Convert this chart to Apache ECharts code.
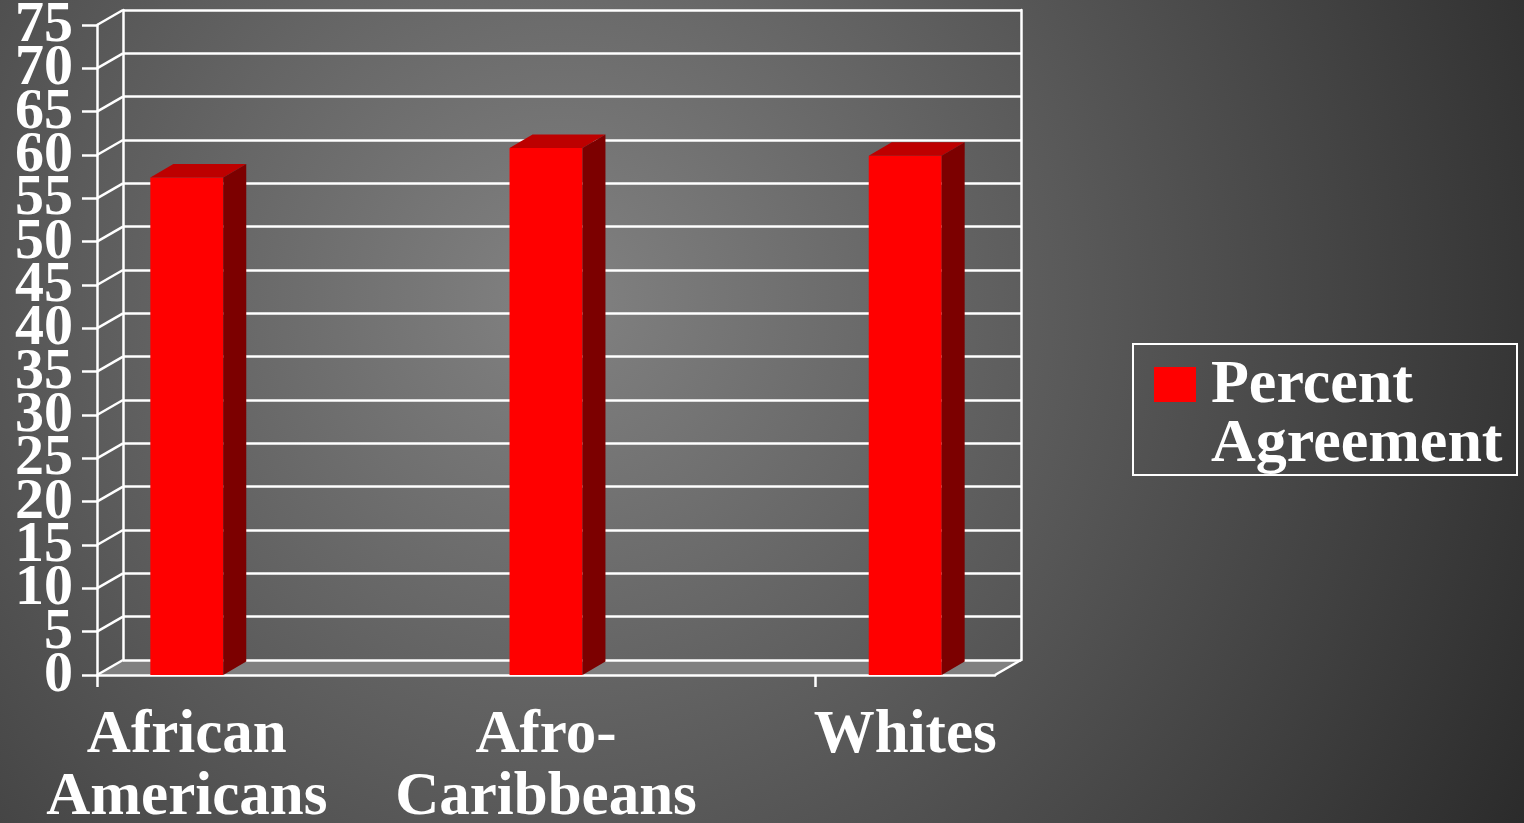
<!DOCTYPE html>
<html>
<head>
<meta charset="utf-8">
<script src="https://cdn.jsdelivr.net/npm/echarts@6/dist/echarts.min.js"></script>
<style>
  html, body { margin: 0; padding: 0; }
  #chartContainer { width: 1524px; height: 823px; }
</style>
</head>
<body>
<div id="chartContainer"></div>
<script>
// data
let categories = ['African\nAmericans', 'Afro-\nCaribbeans', 'Whites'];
let percentAgreement = [57.4, 60.8, 59.9];
let yTicks = [0, 5, 10, 15, 20, 25, 30, 35, 40, 45, 50, 55, 60, 65, 70, 75];
let seriesName = 'Percent Agreement';

// layout of the fake 3d box
const FRONT = {left: 97, top: 25, width: 898, height: 650};
const DEPTH = [26, -15];      // wall depth
const BAR_DEPTH = [23, -13.5];
const X_MIN = -0.25, X_MAX = 2.25;
const BAR_W = 0.203;
const LINE_W = 2.5;
const LABEL_GAP = 24;
const FONT = '"Liberation Serif", "Times New Roman", serif';

let myChart = echarts.init(document.getElementById('chartContainer'));

function renderBar(params, api) {
    let i = api.value(0), v = api.value(1);
    let top = api.coord([i, v]);
    let base = api.coord([i, 0]);
    let w = api.size([BAR_W, 0])[0];
    let x0 = top[0] - w / 2, x1 = top[0] + w / 2;
    let yT = top[1], yB = base[1];
    let dx = BAR_DEPTH[0], dy = BAR_DEPTH[1];
    return {
        type: 'group',
        children: [
            {type: 'rect', shape: {x: x0, y: yT, width: w, height: yB - yT}, style: {fill: '#ff0000'}},
            {type: 'polygon', shape: {points: [[x0, yT], [x1, yT], [x1 + dx, yT + dy], [x0 + dx, yT + dy]]}, style: {fill: '#bd0000'}},
            {type: 'polygon', shape: {points: [[x1, yT], [x1 + dx, yT + dy], [x1 + dx, yB + dy], [x1, yB]]}, style: {fill: '#7c0000'}}
        ]
    };
}

// side wall line + value label for every tick
function renderWallLine(params, api) {
    let v = api.value(0);
    let p = api.coord([X_MIN, v]);
    return {
        type: 'group',
        children: [
            {
                type: 'line',
                shape: {x1: p[0], y1: p[1], x2: p[0] + DEPTH[0], y2: p[1] + DEPTH[1]},
                style: {stroke: '#ffffff', lineWidth: LINE_W}
            },
            {
                type: 'text', x: p[0] - LABEL_GAP, y: p[1] + 1,
                style: {
                    text: String(v), fill: '#ffffff', font: 'bold 58px ' + FONT,
                    align: 'right', verticalAlign: 'middle'
                }
            }
        ]
    };
}

function renderFloor(params, api) {
    let a = api.coord([X_MIN, 0]);
    let b = api.coord([X_MAX, 0]);
    return {
        type: 'group',
        children: [
            {type: 'polygon', shape: {points: [a, b, [b[0] + DEPTH[0], b[1] + DEPTH[1]], [a[0] + DEPTH[0], a[1] + DEPTH[1]]]}, style: {fill: '#808080'}},
            {type: 'line', shape: {x1: b[0], y1: b[1], x2: b[0] + DEPTH[0], y2: b[1] + DEPTH[1]}, style: {stroke: '#ffffff', lineWidth: LINE_W}}
        ]
    };
}

let whiteLine = {show: true, onZero: false, lineStyle: {color: '#ffffff', width: LINE_W}};

let option = {
    animation: false,
    backgroundColor: {
        type: 'radial', x: 560, y: 300, r: 1110, global: true,
        colorStops: [{offset: 0, color: '#828282'}, {offset: 1, color: '#2a2a2a'}]
    },
    grid: [
        {left: FRONT.left, top: FRONT.top, width: FRONT.width, height: FRONT.height, outerBoundsMode: 'none', containLabel: false},
        {left: FRONT.left + DEPTH[0], top: FRONT.top + DEPTH[1], width: FRONT.width, height: FRONT.height, outerBoundsMode: 'none', containLabel: false}
    ],
    xAxis: [
        {
            type: 'value', gridIndex: 0, min: X_MIN, max: X_MAX, z: 3,
            axisLine: whiteLine,
            axisTick: {show: true, customValues: [X_MIN, 1.75], length: 12, lineStyle: {color: '#ffffff', width: LINE_W}},
            axisLabel: {
                show: true, customValues: [0, 1, 2], margin: 30,
                formatter: v => categories[Math.round(v)],
                color: '#ffffff', fontFamily: FONT, fontWeight: 'bold', fontSize: 61, lineHeight: 62
            },
            splitLine: {show: false}
        },
        {
            type: 'value', gridIndex: 1, min: 0, max: 1, show: false
        }
    ],
    yAxis: [
        {
            type: 'value', gridIndex: 0, min: 0, max: 75, interval: 5, z: 3,
            axisLine: whiteLine,
            axisTick: {show: true, length: 15, lineStyle: {color: '#ffffff', width: LINE_W}},
            axisLabel: {show: false},
            splitLine: {show: false}
        },
        {
            type: 'value', gridIndex: 1, min: 0, max: 75, interval: 5, z: 2,
            axisLine: whiteLine, axisTick: {show: false}, axisLabel: {show: false},
            splitLine: {show: true, lineStyle: {color: '#ffffff', width: LINE_W}}
        },
        {
            type: 'value', gridIndex: 1, position: 'right', min: 0, max: 75, interval: 5, z: 2,
            axisLine: whiteLine, axisTick: {show: false}, axisLabel: {show: false},
            splitLine: {show: false}
        }
    ],
    graphic: [
        {
            type: 'group', left: 1132, top: 343,
            children: [
                {type: 'rect', shape: {x: 0, y: 0, width: 384, height: 131}, style: {fill: 'transparent', stroke: '#ffffff', lineWidth: 2}},
                {type: 'rect', shape: {x: 21, y: 23, width: 42, height: 35}, style: {fill: '#ff0000'}},
                {type: 'text', x: 78, y: 12, style: {
                    text: seriesName.replace(' ', '\n'), fill: '#ffffff',
                    font: 'bold 62px ' + FONT, lineHeight: 59
                }}
            ]
        }
    ],
    series: [
        {
            type: 'custom', name: 'floor', xAxisIndex: 0, yAxisIndex: 0, z: 1, silent: true,
            renderItem: renderFloor, data: [[0]]
        },
        {
            type: 'custom', name: 'wall', xAxisIndex: 0, yAxisIndex: 0, z: 4, silent: true,
            clip: false,
            renderItem: renderWallLine, data: yTicks.map(t => [t])
        },
        {
            type: 'custom', name: seriesName, xAxisIndex: 0, yAxisIndex: 0, z: 5,
            renderItem: renderBar,
            data: percentAgreement.map((v, i) => [i, v])
        }
    ]
};

myChart.setOption(option);
</script>
</body>
</html>
